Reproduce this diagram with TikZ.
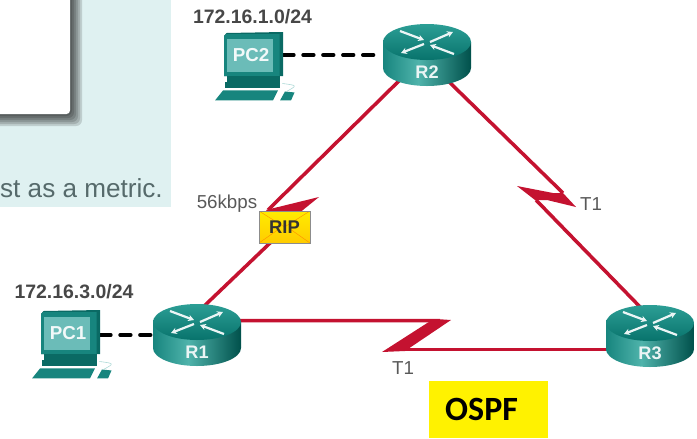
\documentclass[tikz,border=0pt]{standalone}
\usepackage{fontspec}
\setmainfont{Liberation Sans}
\newfontfamily\ospffont{Carlito}
\usetikzlibrary{positioning,arrows.meta,backgrounds}
\definecolor{serialred}{HTML}{C41230}
\definecolor{panelblue}{HTML}{DFF1F1}
\definecolor{tealL}{HTML}{17857E}
\definecolor{tealM}{HTML}{4FB3AB}
\definecolor{tealR}{HTML}{00504B}
\definecolor{tealtop}{HTML}{2C9E95}
\definecolor{tealbot}{HTML}{08736C}
\definecolor{tealscreen}{HTML}{6BBCB8}
\definecolor{tealdark}{HTML}{0A6A64}
\definecolor{metricgray}{HTML}{566A6B}
\pgfdeclarehorizontalshading{routerbody}{100bp}{color(0bp)=(tealL);color(25bp)=(tealL);color(45bp)=(tealM);color(75bp)=(tealR);color(100bp)=(tealR)}
\begin{document}
\begin{tikzpicture}[
  x=0.03cm,y=-0.03cm,
  router/.style={shape=rectangle,minimum width=2.64cm,minimum height=1.86cm,inner sep=0pt,
    label={[rtext,name=#1-text,yshift=-0.51cm]center:#1},
    path picture={
      \begin{scope}[shift={(path picture bounding box.center)}]
        \shade[shading=routerbody] (-44,-13) -- (-44,13) arc[start angle=180,end angle=0,x radius=44,y radius=18] -- (44,-13) -- cycle;
        \shade[top color=tealtop,bottom color=tealbot] (0,-13) ellipse[x radius=44,y radius=18];
        \draw[rarrow] (-27,-24) -- (-3,-15);
        \draw[rarrow] (3,-13) -- (26,-23);
        \draw[rarrow] (-3,-11) -- (-26,-2);
        \draw[rarrow] (27,-1) -- (3,-10);
      \end{scope}}},
  rarrow/.style={draw=white!92!teal,line width=1.9pt,-{Stealth[length=5pt,width=5.5pt]}},
  rtext/.style={text=white!92!teal,font=\fontsize{15.5}{16}\selectfont\bfseries,inner sep=0pt},
  pc/.style={shape=rectangle,minimum width=1.77cm,minimum height=1.5cm,inner sep=0pt,
    label={[ptext,name=#1-text,xshift=-0.075cm,yshift=0.06cm]center:#1},
    path picture={
      \begin{scope}[shift={(path picture bounding box.center)}]
        \fill[tealdark] (-27,-24) -- (29.5,-25) -- (29.5,19) -- (-29.5,19) -- (-29.5,-21) -- cycle;
        \fill[tealL] (-29.5,-21) -- (-27,-23) -- (26,-23) -- (26,19) -- (-29.5,19) -- cycle;
        \fill[tealscreen] (-26.5,-18) rectangle (19.5,15);
        \fill[tealdark] (-27,19) rectangle (26,25);
      \end{scope}}},
  ptext/.style={text=white!95!teal,font=\fontsize{16}{16}\selectfont\bfseries,inner sep=0pt},
  pcbase/.style={shape=rectangle,minimum width=2.46cm,minimum height=0.6cm,inner sep=0pt,
    path picture={
      \begin{scope}[shift={(path picture bounding box.center)}]
        \fill[tealdark] (-29,-10) rectangle (26,-4);
        \fill[tealL] (-38.5,8) -- (-30.5,-2) -- (24.5,-2) -- (19.5,8) -- cycle;
        \fill[tealL] (26.5,8) -- (31.5,-1) -- (41,0) -- (37.5,8) -- cycle;
        \draw[tealtop!40,line width=0.5pt] (29,-9) .. controls (44,-7) .. (33,-1);
      \end{scope}}},
  serial/.style={draw=serialred,line width=3pt},
  flash/.style={fill=serialred},
  lan/.style={draw=black,line width=3.2pt,line cap=round,dash pattern=on 9pt off 8pt},
  net/.style={text=black!72,font=\fontsize{16.6}{17}\selectfont\bfseries,inner sep=0pt},
  speed/.style={text=black!65,font=\fontsize{16}{16}\selectfont,inner sep=0pt},
  envelope/.style={shape=rectangle,draw=black!45,line width=0.7pt,top color=yellow!85!orange,bottom color=yellow!60!orange,
    minimum width=1.53cm,minimum height=0.96cm,inner sep=0pt,text=black!80,font=\fontsize{15.7}{16}\selectfont\bfseries,
    path picture={
      \draw[orange!85!yellow,line width=0.4pt] (path picture bounding box.north west) -- (path picture bounding box.center) -- (path picture bounding box.north east);
      \draw[orange!85!yellow,line width=0.4pt] (path picture bounding box.south west) -- ++(20,-14);
      \draw[orange!85!yellow,line width=0.4pt] (path picture bounding box.south east) -- ++(-20,-14);}},
  ospf/.style={shape=rectangle,fill=yellow,text=black,anchor=north west,inner xsep=0.48cm,inner ysep=0pt,
    text width=2.61cm,minimum height=1.71cm,align=left,font=\ospffont\fontsize{29}{30}\selectfont\bfseries}
]
  \useasboundingbox (0,0) rectangle (697,438);

  \fill[panelblue] (0,0) rectangle (171,207);
  \foreach \s in {11,9,7,5,3,1}
    \fill[black,opacity=0.14,rounded corners=5pt] (-20,-20) rectangle (71+\s,115+\s);
  \fill[white,rounded corners=3pt] (-20,-20) rectangle (70,114);
  \node[anchor=base east,inner sep=0pt,text=metricgray,font=\fontsize{22.3}{23}\selectfont] (metric) at (163,197) {st as a metric.};

  \node[router=R2] (R2) at (427,55) {};
  \node[router=R1] (R1) at (197,335) {};
  \node[router=R3] (R3) at (650,336) {};

  \node[pc=PC2] (PC2) at (253.5,57) {};
  \node[pcbase,below=0pt of PC2] (PC2base) {};
  \node[pc=PC1] (PC1) at (70.5,335) {};
  \node[pcbase,below=0pt of PC1] (PC1base) {};

  \coordinate (ripup) at (268,210);
  \coordinate (ripdown) at (292,222);
  \coordinate (rightup) at (563,193);
  \coordinate (rightdown) at (536,200);
  \coordinate (bottomleft) at (440,320.7);
  \coordinate (bottomright) at (405,349.5);

  \node[envelope] (RIP) at (284.5,227) {RIP};

  % serial links start inside the routers, which hide their ends
  \begin{pgfonlayer}{background}
    \draw[lan] (PC2.east |- R2.west) -- (R2.west);
    \draw[lan] (PC1.east) -- (R1.west);

    \draw[serial] ([shift={(-17,15)}]R2.center) -- (ripup);
    \fill[flash] (266,210) -- (319,197) -- (298,214) -- (270,214) -- cycle;
    \draw[serial] (ripdown) -- ([shift={(3,-25)}]R1.center);

    \draw[serial] ([shift={(13,18)}]R2.center) -- (rightup);
    \fill[flash] (517,186) -- (553,193) -- (563,193) -- (576,207) -- (547,200) -- (535,200) -- cycle;
    \draw[serial] (rightdown) -- ([shift={(-5,-24)}]R3.center);

    \draw[serial] ([shift={(33,-14.3)}]R1.center) -- (bottomleft);
    \fill[flash] (436,319) -- (451,320) -- (405,351) -- (382,352) -- (428,322.5) -- cycle;
    \draw[serial] (bottomright) -- ([shift={(-34,13.5)}]R3.center);
  \end{pgfonlayer}

  \node[net] (net1) at (252.5,17) {172.16.1.0/24};
  \node[net] (net3) at (74,292) {172.16.3.0/24};
  \node[speed] (slow) at (227,204) {56kbps};
  \node[speed] (t1right) at (591,204) {T1};
  \node[speed] (t1bottom) at (403,368) {T1};

  \node[ospf] (OSPFbox) at (429,381) {OSPF};
\end{tikzpicture}
\end{document}
